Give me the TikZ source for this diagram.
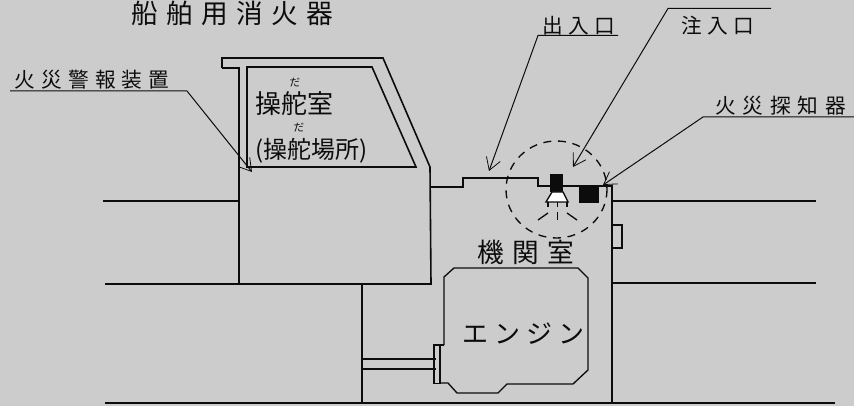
\documentclass[tikz,border=0pt]{standalone}
\usepackage{fontspec}
\usetikzlibrary{arrows.meta}
\newfontfamily\cjk{Noto Sans CJK JP}
\definecolor{panelgray}{RGB}{204,204,204}
\definecolor{inkblack}{RGB}{12,12,12}
\tikzset{every picture/.style={line width=0.75pt}}
\tikzset{
  hull/.style={draw=inkblack,line width=1.2pt},
  thinhull/.style={draw=inkblack,line width=1pt},
  leader/.style={draw=inkblack,line width=0.75pt,-{Straight Barb[length=9pt,width=11pt,line width=0.6pt]}},
  label/.style={anchor=west,inner sep=0pt,text=inkblack,font=\cjk},
}
\newcommand{\spaced}[2]{\fontsize{#1}{#1}\selectfont\addfontfeature{LetterSpace=#2}}

\begin{document}
\begin{tikzpicture}[x=0.75pt,y=0.75pt,yscale=-1,xscale=1]
\fill [panelgray] (0,0) rectangle (854,406);
\useasboundingbox (0,0) rectangle (854,406);

% Text Node
\node (title) [label] at (131,13) {\spaced{20pt}{31}船舶用消火器};
\node (alarmtext) [label] at (14,80) {\spaced{15.5pt}{30}火災警報装置};
\node (doortext) [label] at (542,26) {\spaced{15.5pt}{25}出入口};
\node (filltext) [label] at (681,26) {\spaced{15.5pt}{25}注入口};
\node (sensortext) [label] at (715,106) {\spaced{15.5pt}{33}火災探知器};
\node (bridgetext) [label] at (255,104) {\spaced{19.5pt}{0}操舵室};
\node (rubyone) [label] at (289,83) {\fontsize{8pt}{8pt}\selectfont だ};
\node (steertext) [label] at (255,150.5) {\fontsize{18pt}{18pt}\selectfont (操舵場所)};
\node (rubytwo) [label] at (293,128) {\fontsize{8pt}{8pt}\selectfont だ};
\node (roomtext) [label] at (477,252) {\spaced{20pt}{32}機関室};
\node (enginetext) [label] at (462,334) {\spaced{19.5pt}{23}エンジン};

% Hull
\draw [hull] (222,68) -- (222,58) -- (383,58) -- (430,167) -- (431,284) -- (105,284);
\draw [hull] (222,68) -- (239,68) -- (239,284);
\draw [hull] (431,187) -- (463,187) -- (463,178) -- (538,178) -- (538,186) -- (612,186) -- (612,403);
\draw [hull] (103,201) -- (239,201);
\draw [hull] (612,201) -- (816,201);
\draw [hull] (612,283) -- (816,283);
\draw [hull] (105,403) -- (835,403);
\draw [thinhull] (362,284) -- (362,403);
\draw [thinhull] (612,225) -- (622,225) -- (622,248) -- (612,248);

% Window
\draw [hull] (247,67) -- (372,67) -- (416,167) -- (247,167) -- cycle;

% Engine
\draw [thinhull] (444,345) -- (444,277) -- (454,268) -- (578,268) -- (588,278) -- (588,370) -- (573,384) -- (507,384) -- (498,393) -- (457,393) -- (448,383) -- (440,383);
\draw [thinhull] (434,345) rectangle (440,383.5);
\draw [thinhull] (440,345) -- (444,345);
\draw [thinhull] (362,359) -- (436,359);
\draw [thinhull] (362,369) -- (436,369);

% Nozzle and sensor
\draw [dash pattern=on 6pt off 5pt,line width=1pt,draw=inkblack] (556.5,189.5) circle [x radius=50.5,y radius=48.5];
\fill [inkblack] (550,174) rectangle (563,192);
\fill [inkblack] (579,186) rectangle (599,203);
\draw [thinhull,fill=white] (552,192) -- (563,192) -- (568,202) -- (546,202) -- cycle;
\draw [thinhull] (548,202) -- (548,207);
\draw [thinhull] (557.5,202) -- (557.5,207);
\draw [thinhull] (567,202) -- (567,207);
\draw [thinhull] (538,220) -- (548,213);
\draw [thinhull] (557.5,212) -- (557.5,220);
\draw [thinhull] (567,213) -- (577,220);

% Connection
\coordinate (alarmstart) at (10,91);
\coordinate (alarmknee) at (187,91);
\coordinate (alarmtip) at (252,172);
\draw [leader] (alarmstart) -- (alarmknee) -- (alarmtip);
\coordinate (doorstart) at (618,35.5);
\coordinate (doorknee) at (538,35.5);
\coordinate (doortip) at (489,171);
\draw [leader] (doorstart) -- (doorknee) -- (doortip);
\coordinate (fillstart) at (771,8.5);
\coordinate (fillknee) at (668,8.5);
\coordinate (filltip) at (573,167);
\draw [leader] (fillstart) -- (fillknee) -- (filltip);
\coordinate (sensorstart) at (854,117);
\coordinate (sensorknee) at (703,117);
\coordinate (sensortip) at (603,185);
\draw [leader] (sensorstart) -- (sensorknee) -- (sensortip);

\end{tikzpicture}
\end{document}
